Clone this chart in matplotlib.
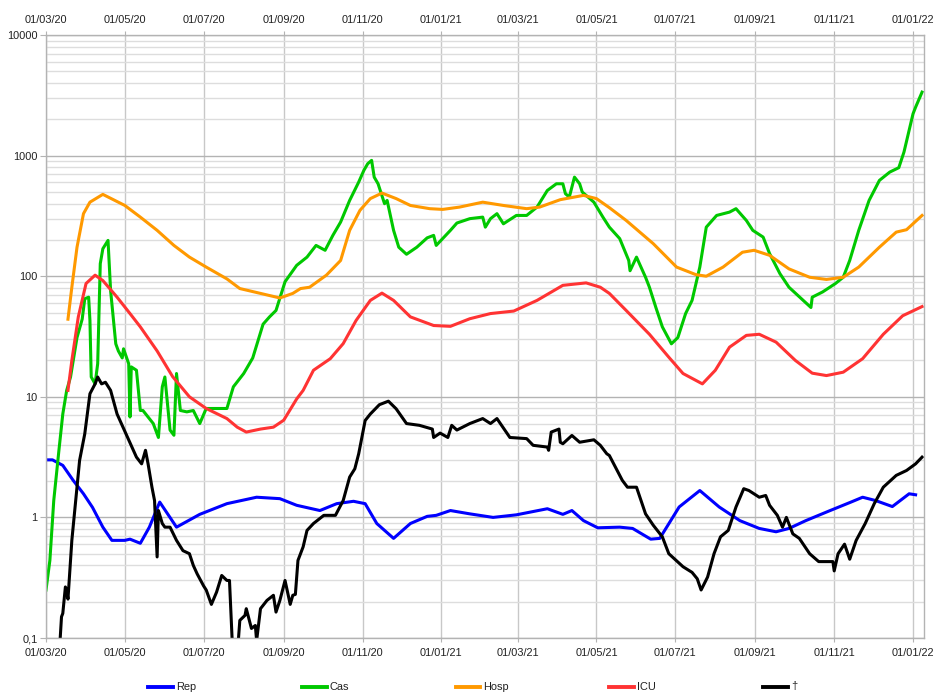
import matplotlib
matplotlib.use("Agg")
import matplotlib.pyplot as plt
from matplotlib.lines import Line2D
from matplotlib.ticker import FixedLocator, LogLocator, NullFormatter
import pandas as pd

plt.rcParams["font.family"] = ["Liberation Sans", "DejaVu Sans"]

# ── données (jours depuis le 01/03/2020) ─────────────────────────────────────

START = pd.Timestamp("2020-03-01")

rep_days = [0, 5, 13, 21, 29, 36, 44, 51, 61, 65, 73, 80, 88, 101, 119, 140,
            163, 181, 194, 212, 225, 238, 247, 256, 269, 282, 295, 302, 313,
            328, 346, 364, 388, 400, 407, 416, 427, 444, 454, 468, 475, 490,
            506, 521, 537, 552, 565, 575, 588, 606, 623, 632, 642, 655, 668, 673]
rep_vals = [3.0, 3.0, 2.7, 2.03, 1.57, 1.21, 0.83, 0.645, 0.645, 0.66, 0.61,
            0.83, 1.34, 0.83, 1.06, 1.3, 1.47, 1.43, 1.26, 1.14, 1.3, 1.36,
            1.3, 0.89, 0.67, 0.89, 1.02, 1.04, 1.14, 1.07, 1.0, 1.05, 1.18,
            1.06, 1.14, 0.94, 0.82, 0.83, 0.81, 0.66, 0.67, 1.22, 1.67, 1.22,
            0.94, 0.81, 0.76, 0.81, 0.94, 1.13, 1.34, 1.47, 1.38, 1.23, 1.57, 1.54]

cas_days = [0, 3, 6, 10, 13, 16, 19, 24, 28, 30, 33, 34, 35, 38, 40, 42, 44,
            48, 50, 52, 54, 56, 59, 60, 64, 65, 66, 70, 73, 75, 83, 87, 90, 92,
            94, 96, 99, 101, 104, 109, 114, 119, 124, 132, 140, 145, 153, 160,
            168, 173, 178, 185, 194, 202, 209, 216, 222, 228, 235, 242, 246,
            249, 252, 254, 257, 262, 264, 269, 273, 279, 287, 295, 300, 302,
            307, 313, 318, 328, 338, 340, 344, 349, 354, 364, 372, 380, 388,
            395, 400, 402, 405, 409, 413, 415, 424, 431, 436, 444, 451, 452,
            457, 464, 467, 472, 477, 484, 489, 495, 500, 506, 511, 519, 529,
            534, 542, 547, 555, 560, 568, 575, 586, 592, 593, 601, 611, 617,
            622, 629, 637, 645, 653, 660, 664, 671, 673, 678]
cas_vals = [0.25, 0.44, 1.38, 3.6, 7.2, 11.3, 14.6, 31, 44, 65, 67, 43, 14.6,
            12.8, 18.8, 127, 169, 198, 76, 46, 27.5, 24, 21, 25, 18.8, 6.8,
            17.7, 16.6, 7.7, 7.7, 6, 4.6, 12.1, 14.6, 8.8, 5.3, 4.8, 15.6, 7.7,
            7.5, 7.7, 6, 8, 8, 8, 12.1, 15.6, 21, 40, 46, 52, 90, 123, 144,
            180, 164, 218, 281, 425, 603, 754, 857, 913, 663, 584, 399, 425,
            240, 174, 152, 174, 208, 218, 180, 205, 240, 276, 300, 309, 255,
            300, 330, 272, 319, 319, 374, 514, 584, 584, 483, 453, 663, 584,
            499, 411, 309, 255, 205, 135, 111, 144, 98, 81, 55, 38, 27.5, 31,
            49, 63, 119, 255, 319, 340, 363, 290, 240, 211, 154, 105, 81, 63,
            55, 67, 74, 87, 98, 135, 240, 425, 623, 730, 794, 1070, 2220, 2520, 3360]

hosp_days = [17, 20, 24, 29, 34, 44, 61, 73, 86, 99, 111, 124, 140, 150, 166,
             181, 191, 197, 204, 217, 228, 235, 243, 251, 260, 271, 282, 297,
             307, 320, 338, 354, 372, 382, 398, 416, 426, 436, 449, 470, 488,
             503, 511, 524, 539, 548, 560, 575, 591, 604, 617, 629, 645, 658,
             666, 678]
hosp_vals = [44, 81, 174, 330, 411, 477, 386, 309, 240, 180, 144, 119, 95, 79,
             72, 66, 72, 79, 81, 102, 135, 240, 352, 440, 489, 440, 386, 363,
             358, 374, 411, 386, 363, 374, 431, 468, 440, 370, 290, 186, 119,
             103, 100, 119, 158, 164, 149, 115, 98, 94, 98, 119, 174, 232, 243, 319]

icu_days = [17, 20, 25, 31, 38, 44, 55, 65, 73, 86, 98, 111, 124, 140, 148,
            155, 166, 176, 184, 194, 199, 207, 220, 230, 240, 251, 260, 269,
            282, 300, 313, 328, 344, 362, 380, 400, 418, 429, 436, 449, 467,
            482, 493, 508, 518, 529, 542, 552, 565, 580, 593, 604, 617, 632,
            648, 663, 678]
icu_vals = [11.3, 20, 46, 87, 102, 92, 67, 49, 38, 24, 14.7, 10, 8, 6.6, 5.6,
            5.1, 5.4, 5.6, 6.4, 9.6, 11.3, 16.6, 20.7, 27.6, 43, 63, 72.4, 63,
            46, 39, 38.4, 44.4, 49, 51.4, 63, 84, 88, 81, 72, 52, 33, 21.3,
            15.6, 12.8, 16.6, 25.8, 32.3, 33, 28.4, 20, 15.7, 15, 16, 20.7,
            33, 47, 56]

dth_days = [10, 11, 12, 13, 15, 16, 17, 19, 20, 24, 26, 30, 34, 38, 40, 43,
            46, 50, 55, 62, 70, 74, 77, 79, 82, 84, 86, 87, 90, 92, 96, 101,
            106, 111, 114, 117, 122, 124, 128, 132, 136, 140, 142, 144, 145,
            148, 149, 150, 154, 155, 159, 162, 163, 166, 171, 176, 178, 181,
            185, 189, 191, 193, 195, 199, 202, 207, 215, 224, 230, 235, 239,
            242, 247, 251, 258, 265, 271, 279, 289, 299, 300, 305, 311, 314,
            318, 328, 338, 344, 349, 359, 372, 377, 388, 389, 391, 397, 398,
            400, 407, 413, 424, 429, 434, 436, 446, 450, 457, 464, 470, 477,
            482, 493, 500, 504, 507, 512, 517, 522, 528, 534, 540, 544, 552,
            557, 560, 566, 570, 573, 578, 583, 591, 598, 609, 610, 613, 618,
            622, 627, 634, 641, 648, 658, 666, 673, 678]
dth_vals = [0.07, 0.1, 0.15, 0.16, 0.265, 0.25, 0.21, 0.45, 0.645, 1.78, 2.97,
            4.93, 10.6, 12.8, 14.6, 12.8, 13.2, 11.3, 7.2, 4.9, 3.16, 2.78,
            3.6, 2.78, 1.78, 1.38, 0.47, 1.14, 0.89, 0.83, 0.83, 0.645, 0.53,
            0.5, 0.4, 0.34, 0.27, 0.25, 0.19, 0.24, 0.33, 0.30, 0.30, 0.1,
            0.05, 0.05, 0.1, 0.14, 0.154, 0.175, 0.12, 0.127, 0.095, 0.175,
            0.205, 0.226, 0.164, 0.205, 0.30, 0.19, 0.226, 0.23, 0.44, 0.57,
            0.78, 0.89, 1.04, 1.04, 1.38, 2.16, 2.53, 3.37, 6.36, 7.2, 8.6,
            9.2, 7.95, 6.0, 5.8, 5.4, 4.6, 5.0, 4.6, 5.8, 5.3, 6.0, 6.6, 6.0,
            6.6, 4.6, 4.5, 3.96, 3.83, 3.6, 5.1, 5.4, 4.2, 4.08, 4.78, 4.2,
            4.4, 3.96, 3.37, 3.26, 2.03, 1.78, 1.78, 1.07, 0.86, 0.69, 0.5,
            0.39, 0.35, 0.31, 0.25, 0.32, 0.5, 0.69, 0.78, 1.22, 1.73, 1.67,
            1.47, 1.52, 1.26, 1.04, 0.83, 1.0, 0.73, 0.67, 0.5, 0.43, 0.43,
            0.36, 0.5, 0.6, 0.45, 0.645, 0.89, 1.3, 1.78, 2.23, 2.45, 2.78, 3.16]

SERIES = [
    ("Rep", rep_days, rep_vals, "#0000ff"),
    ("Cas", cas_days, cas_vals, "#00c800"),
    ("Hosp", hosp_days, hosp_vals, "#ff9900"),
    ("ICU", icu_days, icu_vals, "#ff3333"),
    ("\u2020", dth_days, dth_vals, "#000000"),
]

TICK_DATES = ["2020-03-01", "2020-05-01", "2020-07-01", "2020-09-01",
              "2020-11-01", "2021-01-01", "2021-03-01", "2021-05-01",
              "2021-07-01", "2021-09-01", "2021-11-01", "2022-01-01"]
TICK_LABELS = ["01/03/20", "01/05/20", "01/07/20", "01/09/20", "01/11/20",
               "01/01/21", "01/03/21", "01/05/21", "01/07/21", "01/09/21",
               "01/11/21", "01/01/22"]
Y_TICKS = [0.1, 1, 10, 100, 1000, 10000]
Y_LABELS = ["0,1", "1", "10", "100", "1000", "10000"]

FS = 7.9

# ── figure ────────────────────────────────────────────────────────────────────

W, H = 936, 693
fig = plt.figure(figsize=(W / 100, H / 100), dpi=100)
ax = fig.add_axes([46 / W, 1 - 638 / H, (924 - 46) / W, (638 - 35) / H])

for label, days, vals, color in SERIES:
    assert len(days) == len(vals), label
    x = START + pd.to_timedelta(days, unit="D")
    ax.plot(x, vals, color=color, linewidth=2.2, solid_joinstyle="round")

ax.set_yscale("log")
ax.set_ylim(0.1, 10000)
ax.set_xlim(START, START + pd.Timedelta(days=679.5))

ax.yaxis.set_major_locator(FixedLocator(Y_TICKS))
ax.set_yticklabels(Y_LABELS)
ax.yaxis.set_minor_locator(LogLocator(base=10, subs=range(2, 10), numticks=20))
ax.yaxis.set_minor_formatter(NullFormatter())

ax.set_xticks(pd.to_datetime(TICK_DATES))
ax.set_xticklabels(TICK_LABELS)

ax.tick_params(axis="x", which="major", top=True, labeltop=True, length=3,
               pad=4.5, color="#b3b3b3", labelsize=FS, labelcolor="#222222")
ax.tick_params(axis="y", which="major", length=4, pad=2, color="#b3b3b3",
               labelsize=FS, labelcolor="#222222")
ax.tick_params(axis="y", which="minor", length=0)

ax.grid(True, axis="y", which="major", color="#b3b3b3", linewidth=1.0)
ax.grid(True, axis="y", which="minor", color="#dddddd", linewidth=1.0)
ax.grid(True, axis="x", which="major", color="#c8c8c8", linewidth=1.0)
ax.set_axisbelow(True)
for sp in ax.spines.values():
    sp.set_color("#b3b3b3")
    sp.set_linewidth(1.0)

# légende en bas
leg_y = (H - 687) / H
for i, (label, _, _, color) in enumerate(SERIES):
    x0 = 148 + 153.75 * i
    fig.add_artist(Line2D([x0 / W, (x0 + 25) / W], [leg_y, leg_y],
                          color=color, linewidth=2.8))
    fig.text((x0 + 28) / W, (H - 686.5) / H, label, fontsize=FS,
             color="#222222", va="center", ha="left")

fig.savefig("out.png", dpi=100)
plt.close(fig)
